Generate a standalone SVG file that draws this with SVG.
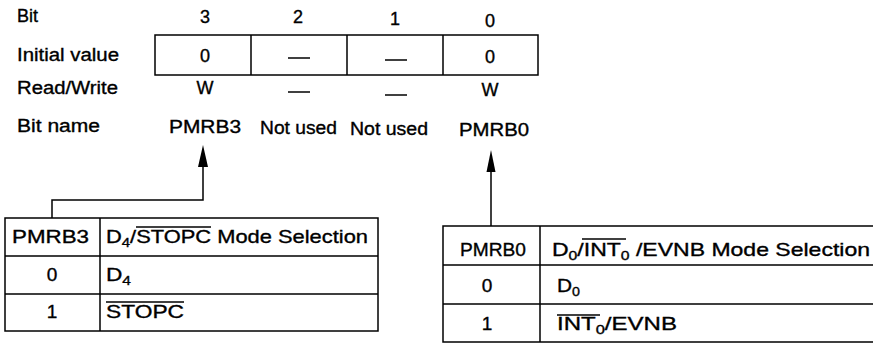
<svg xmlns="http://www.w3.org/2000/svg" width="873" height="355" viewBox="0 0 873 355">
<style>
text{font-family:"Liberation Sans",Arial,sans-serif;fill:#000;stroke:#000;stroke-width:0.35}
.t{font-size:18px}
.c{text-anchor:middle}
.tb{font-size:19px}
.sub{font-size:13px}
.ln{stroke:#000;stroke-width:1.5;fill:none}
.ol{stroke:#000;stroke-width:1.4}
.ah{fill:#000}
</style>
<rect width="873" height="355" fill="#fff"/>
<g id="register">
<text class="t" x="17" y="22">Bit</text>
<text class="t" x="17" y="61" textLength="102" lengthAdjust="spacingAndGlyphs">Initial value</text>
<text class="t" x="17" y="94" textLength="101" lengthAdjust="spacingAndGlyphs">Read/Write</text>
<text class="t" x="17" y="132" textLength="83" lengthAdjust="spacingAndGlyphs">Bit name</text>
<text class="t c" x="205" y="23">3</text>
<text class="t c" x="298" y="23">2</text>
<text class="t c" x="395" y="25">1</text>
<text class="t c" x="490" y="27">0</text>
<rect class="ln" x="155" y="35" width="383" height="40"/>
<path class="ln" d="M251,35V75M347,35V75M443,35V75"/>
<text class="t c" x="205" y="62">0</text>
<line class="ln" x1="288" y1="58" x2="310" y2="58"/>
<line class="ln" x1="385" y1="60" x2="407" y2="60"/>
<text class="t c" x="490" y="63">0</text>
<text class="t c" x="205" y="94">W</text>
<line class="ln" x1="288" y1="92" x2="310" y2="92"/>
<line class="ln" x1="385" y1="95" x2="407" y2="95"/>
<text class="t c" x="490" y="96">W</text>
<text class="t" x="169" y="133" textLength="72" lengthAdjust="spacingAndGlyphs">PMRB3</text>
<text class="t" x="260" y="134" textLength="77" lengthAdjust="spacingAndGlyphs">Not used</text>
<text class="t" x="350" y="135" textLength="78" lengthAdjust="spacingAndGlyphs">Not used</text>
<text class="t" x="459" y="136" textLength="70" lengthAdjust="spacingAndGlyphs">PMRB0</text>
</g>
<g id="connectors">
<path class="ln" d="M203,166V200H52V218"/>
<polygon class="ah" points="203,145 198,167 208,167"/>
<line class="ln" x1="491" y1="170" x2="491" y2="226"/>
<polygon class="ah" points="491,150 486.5,172 495.5,172"/>
</g>
<g id="pmrb3-table">
<rect class="ln" x="5" y="218" width="373" height="113"/>
<path class="ln" d="M5,256H378M5,294H378M100,218V331"/>
<text class="tb" x="12" y="243" textLength="77" lengthAdjust="spacingAndGlyphs">PMRB3</text>
<text class="tb" x="106" y="243" textLength="262" lengthAdjust="spacingAndGlyphs">D<tspan class="sub" dy="4">4</tspan><tspan dy="-4">/STOPC Mode Selection</tspan></text>
<line class="ol" x1="136" y1="227" x2="211" y2="227"/>
<text class="tb c" x="52" y="281">0</text>
<text class="tb" x="106" y="281" textLength="25" lengthAdjust="spacingAndGlyphs">D<tspan class="sub" dy="4">4</tspan></text>
<text class="tb c" x="52" y="318">1</text>
<text class="tb" x="106" y="318" textLength="78" lengthAdjust="spacingAndGlyphs">STOPC</text>
<line class="ol" x1="106" y1="302" x2="184" y2="302"/>
</g>
<g id="pmrb0-table">
<path class="ln" d="M880,226H443V342H880M443,265H880M443,304H880M540,226V342"/>
<text class="tb c" x="493" y="256" textLength="66" lengthAdjust="spacingAndGlyphs">PMRB0</text>
<text class="tb" x="552" y="256" textLength="318" lengthAdjust="spacingAndGlyphs">D<tspan class="sub" dy="4">0</tspan><tspan dy="-4">/INT</tspan><tspan class="sub" dy="4">0</tspan><tspan dy="-4"> /EVNB Mode Selection</tspan></text>
<line class="ol" x1="582" y1="239" x2="626" y2="239"/>
<text class="tb c" x="487" y="292">0</text>
<text class="tb" x="557" y="292" textLength="23" lengthAdjust="spacingAndGlyphs">D<tspan class="sub" dy="4">0</tspan></text>
<text class="tb c" x="487" y="330">1</text>
<text class="tb" x="557" y="330" textLength="120" lengthAdjust="spacingAndGlyphs">INT<tspan class="sub" dy="4">0</tspan><tspan dy="-4">/EVNB</tspan></text>
<line class="ol" x1="557" y1="315" x2="600" y2="315"/>
</g>
</svg>
